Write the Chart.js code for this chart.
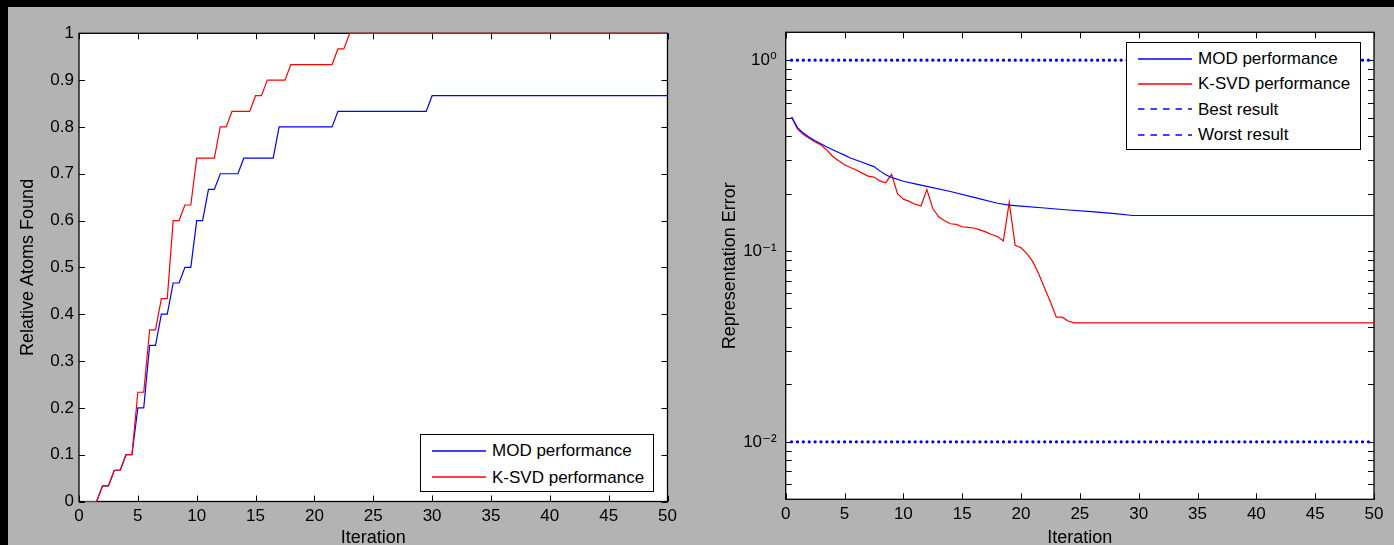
<!DOCTYPE html>
<html>
<head>
<meta charset="utf-8">
<script src="https://cdn.jsdelivr.net/npm/chart.js@4/dist/chart.umd.min.js"></script>
<style>
  html, body { margin: 0; padding: 0; width: 1394px; height: 545px; overflow: hidden; background: #000; }
  #panel { position: absolute; left: 8px; top: 7px; width: 1386px; height: 538px; background: #b3b3b3; }
  canvas { position: absolute; }
  #cLeft { left: 8px; top: 7px; }
  #cRight { left: 700px; top: 7px; }
  .legend { position: absolute; box-sizing: border-box; border: 1px solid #000; background: #fff;
            font-family: "Liberation Sans", Arial, sans-serif; font-size: 17px; color: #000; }
  .legend .row { position: absolute; left: 0; display: flex; align-items: center; white-space: nowrap; }
  .legend svg { margin-left: 11px; }
  .legend span { margin-left: 6px; line-height: 1; }
</style>
</head>
<body>
<div id="panel"></div>
<canvas id="cLeft" width="692" height="553"></canvas>
<canvas id="cRight" width="694" height="553"></canvas>
<div id="legLeft" class="legend" style="left:420px; top:434px; width:234px; height:58px;"></div>
<div id="legRight" class="legend" style="left:1126px; top:42px; width:235px; height:108px;"></div>
<script>
// ---------- Data: left chart (relative atoms found) ----------
const atomsModIter   = [0.5,1.5,2,2.5,3,3.5,4,4.5,5,5.5,6,6.5,7,7.5,8,8.5,9,9.5,10,10.5,11,11.5,12,13.5,14,16.5,17,21.5,22,29.5,30,50];
const atomsModFound  = [0,0,0.0333,0.0333,0.0667,0.0667,0.1,0.1,0.2,0.2,0.3333,0.3333,0.4,0.4,0.4667,0.4667,0.5,0.5,0.6,0.6,0.6667,0.6667,0.7,0.7,0.7333,0.7333,0.8,0.8,0.8333,0.8333,0.8667,0.8667];
const atomsKsvdIter  = [0.5,1.5,2,2.5,3,3.5,4,4.5,5,5.5,6,6.5,7,7.5,8,8.5,9,9.5,10,11.5,12,12.5,13,14.5,15,15.5,16,17.5,18,21.5,22,22.5,23,50];
const atomsKsvdFound = [0,0,0.0333,0.0333,0.0667,0.0667,0.1,0.1,0.2333,0.2333,0.3667,0.3667,0.4333,0.4333,0.6,0.6,0.6333,0.6333,0.7333,0.7333,0.8,0.8,0.8333,0.8333,0.8667,0.8667,0.9,0.9,0.9333,0.9333,0.9667,0.9667,1,1];

// ---------- Data: right chart (representation error) ----------
const errModIter   = [0.5,1,1.5,2,2.5,3.5,4.5,5,5.5,6.5,7.5,8,8.5,9,10,11,12,14,16,18,19,20,22,24,26,28,29.5,50];
const errModValue  = [0.504,0.443,0.415,0.395,0.378,0.351,0.328,0.318,0.307,0.292,0.277,0.263,0.251,0.243,0.232,0.225,0.218,0.205,0.191,0.178,0.174,0.172,0.168,0.164,0.161,0.157,0.1535,0.1535];
const errKsvdIter  = [0.5,1,1.5,2,2.5,3,3.5,4,4.5,5,5.5,6,6.5,7,7.5,8,8.5,9,9.5,10,10.5,11,11.5,12,12.5,13,13.5,14,14.5,15,15.5,16,16.5,17,17.5,18,18.5,19,19.5,20,20.5,21,21.5,22,22.5,23,23.5,24,24.5,50];
const errKsvdValue = [0.504,0.436,0.408,0.39,0.373,0.359,0.338,0.313,0.297,0.283,0.274,0.266,0.256,0.247,0.244,0.233,0.228,0.252,0.200,0.187,0.182,0.176,0.172,0.210,0.167,0.151,0.144,0.139,0.138,0.134,0.133,0.132,0.129,0.126,0.122,0.119,0.113,0.180,0.107,0.104,0.097,0.088,0.076,0.064,0.054,0.045,0.045,0.043,0.042,0.042];
const refIter      = [0.5, 50];
const bestResult   = [0.01, 0.01];
const worstResult  = [1, 1];

// ---------- Tick labels ----------
const logTickValues = [0.01, 0.1, 1];
const logTickLabels = ['10\u207B\u00B2', '10\u207B\u00B9', '10\u2070'];

const FONT = '"Liberation Sans", Arial, "DejaVu Sans", sans-serif';
Chart.defaults.font.family = FONT;
Chart.defaults.color = '#000';
const TICK_SIZE = 17, TITLE_SIZE = 18;

const zip = (xs, ys) => xs.map((x, i) => ({x, y: ys[i]}));

const matlabAxes = {
  id: 'matlabAxes',
  beforeDraw(chart) {
    const {ctx, chartArea: a} = chart;
    ctx.save();
    ctx.fillStyle = '#fff';
    ctx.fillRect(a.left, a.top, a.right - a.left, a.bottom - a.top);
    ctx.restore();
  },
  beforeDatasetsDraw(chart) {
    const {ctx, chartArea: a, scales: {x, y}} = chart;
    ctx.save();
    ctx.strokeStyle = '#000';
    ctx.lineWidth = 1;
    ctx.beginPath();
    const L = 6;
    x.ticks.forEach(t => {
      const px = Math.round(x.getPixelForValue(t.value)) + 0.5;
      ctx.moveTo(px, a.bottom); ctx.lineTo(px, a.bottom - L);
      ctx.moveTo(px, a.top); ctx.lineTo(px, a.top + L);
    });
    let yVals = [];
    if (y.type === 'logarithmic') {
      const e0 = Math.floor(Math.log10(y.min)), e1 = Math.ceil(Math.log10(y.max));
      for (let e = e0; e <= e1; e++) for (let m = 1; m <= 9; m++) {
        const v = m * Math.pow(10, e);
        if (v >= y.min * 0.999 && v <= y.max) yVals.push(v);
      }
    } else {
      yVals = y.ticks.map(t => t.value);
    }
    yVals.forEach(v => {
      const py = Math.round(y.getPixelForValue(v)) + 0.5;
      ctx.moveTo(a.left, py); ctx.lineTo(a.left + L, py);
      ctx.moveTo(a.right, py); ctx.lineTo(a.right - L, py);
    });
    ctx.stroke();
    ctx.lineWidth = 1.3;
    ctx.strokeRect(a.left, a.top, a.right - a.left, a.bottom - a.top);
    ctx.restore();
  }
};

function buildLegend(chart, el, rowH, offset) {
  chart.data.datasets.forEach((ds, i) => {
    const row = document.createElement('div');
    row.className = 'row';
    row.style.top = (offset + i * rowH) + 'px';
    row.style.height = rowH + 'px';
    const dash = ds.legendDash ? ` stroke-dasharray="${ds.legendDash.join(' ')}"` : '';
    row.innerHTML = `<svg width="54" height="4"><line x1="0" y1="2" x2="54" y2="2" stroke="${ds.borderColor}" stroke-width="1.3"${dash}/></svg><span>${ds.label}</span>`;
    el.appendChild(row);
  });
}

const xAxisCommon = (h) => ({
  type: 'linear', min: 0, max: 50,
  ticks: { stepSize: 5, padding: 5, font: {size: TICK_SIZE}, maxRotation: 0, autoSkip: false },
  grid: { display: false, drawTicks: false },
  border: { display: false },
  title: { display: true, text: 'Iteration', font: {size: TITLE_SIZE}, padding: {top: 0, bottom: 11} },
  afterFit: s => { s.height = h; }
});

// ---------- Left chart ----------
const leftChart = new Chart(document.getElementById('cLeft'), {
  type: 'line',
  data: {
    datasets: [
      { label: 'MOD performance', data: zip(atomsModIter, atomsModFound), borderColor: '#0000ff', borderWidth: 1.2, pointRadius: 0, order: 1, clip: 3 },
      { label: 'K-SVD performance', data: zip(atomsKsvdIter, atomsKsvdFound), borderColor: '#ff0000', borderWidth: 1.2, pointRadius: 0, order: 0, clip: 3 }
    ]
  },
  options: {
    responsive: false, animation: false, devicePixelRatio: 1,
    layout: { padding: { top: 26.3, right: 32.5, left: 0, bottom: 0 } },
    plugins: { legend: { display: false }, tooltip: { enabled: false } },
    elements: { line: { tension: 0 } },
    scales: {
      x: xAxisCommon(58.5),
      y: {
        type: 'linear', min: 0, max: 1,
        ticks: { stepSize: 0.1, padding: 5, font: {size: TICK_SIZE}, callback: v => String(Number(v.toFixed(1))) },
        grid: { display: false, drawTicks: false },
        border: { display: false },
        title: { display: true, text: 'Relative Atoms Found', font: {size: TITLE_SIZE}, padding: {top: 9.2, bottom: 0} },
        afterFit: s => { s.width = 71; }
      }
    }
  },
  plugins: [matlabAxes]
});
buildLegend(leftChart, document.getElementById('legLeft'), 26.7, 2.3);

// ---------- Right chart ----------
const rightChart = new Chart(document.getElementById('cRight'), {
  type: 'line',
  data: {
    datasets: [
      { label: 'MOD performance', data: zip(errModIter, errModValue), borderColor: '#0000ff', borderWidth: 1.2, pointRadius: 0, order: 0 },
      { label: 'K-SVD performance', data: zip(errKsvdIter, errKsvdValue), borderColor: '#ff0000', borderWidth: 1.2, pointRadius: 0, order: 1 },
      { label: 'Best result', data: zip(refIter, bestResult), borderColor: '#0000ff', borderWidth: 3.3, borderDash: [0, 5.886], borderCapStyle: 'round', pointRadius: 0, legendDash: [6.5, 6], clip: 4, order: 2 },
      { label: 'Worst result', data: zip(refIter, worstResult), borderColor: '#0000ff', borderWidth: 3.3, borderDash: [0, 5.886], borderCapStyle: 'round', pointRadius: 0, legendDash: [6.5, 6], clip: 4, order: 3 }
    ]
  },
  options: {
    responsive: false, animation: false, devicePixelRatio: 1,
    layout: { padding: { top: 25.3, right: 20, left: 0, bottom: 0 } },
    plugins: { legend: { display: false }, tooltip: { enabled: false } },
    elements: { line: { tension: 0 } },
    scales: {
      x: xAxisCommon(60.7),
      y: {
        type: 'logarithmic', min: 0.005, max: 1.4,
        afterBuildTicks: s => { s.ticks = logTickValues.map(v => ({value: v, major: true})); },
        ticks: {
          padding: 9, font: {size: TICK_SIZE}, autoSkip: false,
          callback: v => { const i = logTickValues.findIndex(t => Math.abs(t - v) < 1e-12); return i >= 0 ? logTickLabels[i] : ''; }
        },
        grid: { display: false, drawTicks: false },
        border: { display: false },
        title: { display: true, text: 'Representation Error', font: {size: TITLE_SIZE}, padding: {top: 19.2, bottom: 0} },
        afterFit: s => { s.width = 85.7; }
      }
    }
  },
  plugins: [matlabAxes]
});
buildLegend(rightChart, document.getElementById('legRight'), 25.4, 2.9);
</script>
</body>
</html>
